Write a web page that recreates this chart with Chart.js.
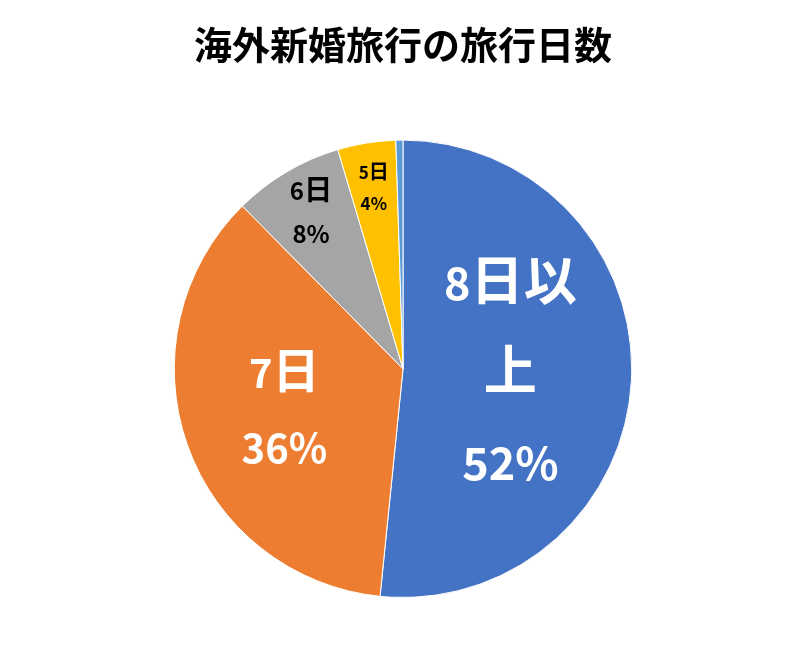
<!DOCTYPE html>
<html>
<head>
<meta charset="utf-8">
<script src="https://cdn.jsdelivr.net/npm/chart.js@4.4.1/dist/chart.umd.min.js"></script>
<style>
html,body{margin:0;padding:0;background:#fff;}
#wrap{position:absolute;left:0;top:0;width:805px;height:656px;}
</style>
</head>
<body>
<div id="wrap"><canvas id="c" width="805" height="656"></canvas></div>
<script>
const chartTitle = '海外新婚旅行の旅行日数';
const categories = ['8日以上', '7日', '6日', '5日', '4日以下'];
const values = [51.6, 36.0, 7.8, 4.1, 0.5];
const labelLines = [['8日以', '上'], ['7日'], ['6日'], ['5日'], []];
const colors = ['#4472C4', '#ED7D31', '#A5A5A5', '#FFC000', '#5B9BD5'];

const FONT = '"Noto Sans CJK JP", "Noto Sans", sans-serif';
const CJK_RATIO = 1.18;
const labelStyle = [
  {size: 45, color: '#ffffff', frac: 0.47, gap: 90},
  {size: 40, color: '#ffffff', frac: 0.55, gap: 75},
  {size: 24, color: '#000000', frac: 0.79, gap: 43},
  {size: 17, color: '#000000', frac: 0.80, gap: 31},
  null
];

function isCJK(ch) {
  return /[\u3000-\u9fff\uff00-\uffef]/.test(ch);
}

function drawMixed(ctx, text, cx, baseY, size) {
  const runs = [];
  for (const ch of text) {
    const s = isCJK(ch) ? size * CJK_RATIO : size;
    ctx.font = 'bold ' + s.toFixed(1) + 'px ' + FONT;
    runs.push({ch, font: ctx.font, w: ctx.measureText(ch).width});
  }
  const total = runs.reduce((a, r) => a + r.w, 0);
  let x = cx - total / 2;
  runs.forEach(r => {
    ctx.font = r.font;
    ctx.fillText(r.ch, x, baseY);
    x += r.w;
  });
}

const labelPlugin = {
  id: 'sliceLabels',
  afterDatasetsDraw(chart) {
    const ctx = chart.ctx;
    const meta = chart.getDatasetMeta(0);
    const total = values.reduce((a, b) => a + b, 0);
    meta.data.forEach((arc, i) => {
      const st = labelStyle[i];
      if (!st) return;
      const p = arc.getProps(['x', 'y', 'startAngle', 'endAngle', 'outerRadius'], true);
      const mid = (p.startAngle + p.endAngle) / 2;
      const r = p.outerRadius * st.frac;
      const cx = p.x + Math.cos(mid) * r;
      const cy = p.y + Math.sin(mid) * r;
      const lines = labelLines[i].concat([Math.round(values[i] / total * 100) + '%']);
      ctx.save();
      ctx.fillStyle = st.color;
      ctx.textAlign = 'left';
      ctx.textBaseline = 'alphabetic';
      const n = lines.length;
      lines.forEach((t, k) => {
        const lineCenter = cy + (k - (n - 1) / 2) * st.gap;
        drawMixed(ctx, t, cx, lineCenter + st.size * 0.36, st.size);
      });
      ctx.restore();
    });
  }
};

new Chart(document.getElementById('c'), {
  type: 'pie',
  data: {
    labels: categories,
    datasets: [{
      data: values,
      backgroundColor: colors,
      borderColor: '#ffffff',
      borderWidth: 1
    }]
  },
  options: {
    responsive: false,
    animation: false,
    layout: {padding: {top: 0, bottom: 58, left: 1, right: 0}},
    plugins: {
      legend: {display: false},
      tooltip: {enabled: false},
      title: {
        display: true,
        text: chartTitle,
        color: '#000000',
        font: {family: FONT, size: 38, weight: 'bold', lineHeight: 1.2},
        padding: {top: 22, bottom: 72}
      }
    }
  },
  plugins: [labelPlugin]
});
</script>
</body>
</html>
